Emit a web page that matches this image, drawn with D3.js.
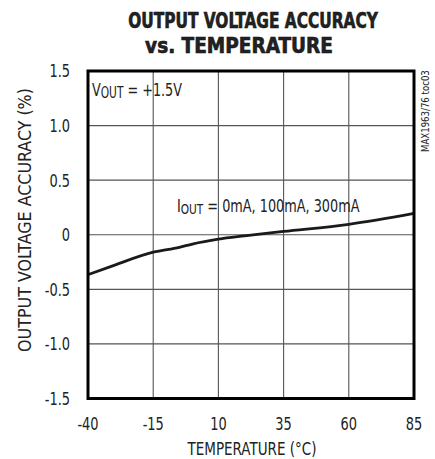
<!DOCTYPE html>
<html>
<head>
<meta charset="utf-8">
<script src="https://cdn.jsdelivr.net/npm/d3@7"></script>
<style>
  body { margin: 0; background: #fff; }
  text { font-family: "DejaVu Sans", "Liberation Sans", sans-serif; font-stretch: condensed; fill: #222; }
</style>
</head>
<body>
<svg id="chart" width="435" height="459"></svg>
<script>
// temperature (°C) vs output voltage accuracy (%)
var temps = [-40, -30, -15, -5, 0, 10, 20, 35, 60, 85];
var accuracy = [-0.365, -0.28, -0.16, -0.115, -0.085, -0.04, -0.01, 0.03, 0.095, 0.195];
var xTicks = [-40, -15, 10, 35, 60, 85];
var yTicks = [-1.5, -1.0, -0.5, 0, 0.5, 1.0, 1.5];
var yTickLabels = ['-1.5', '-1.0', '-0.5', '0', '0.5', '1.0', '1.5'];

var svg = d3.select('#chart');

var padding = { top: 71, right: 21, bottom: 60.5, left: 88 };
var width = +svg.attr('width');
var height = +svg.attr('height');

var xScale = d3.scaleLinear()
                .domain([-40, 85])
                .range([padding.left, width - padding.right]);

var yScale = d3.scaleLinear()
                .domain([-1.5, 1.5])
                .range([height - padding.bottom, padding.top]);

// squeeze a text to a given width (no condensed font installed)
function fit(sel, x, y, w, rot) {
    var bw = sel.node().getBBox().width;
    var k = w ? w / bw : 0.8;
    sel.attr('transform', `translate(${x}, ${y})${rot ? ' rotate(-90)' : ''} scale(${k}, 1)`);
    return sel;
}

// grid
svg.append('g')
    .selectAll('line')
    .data(xTicks.slice(1, -1))
    .enter()
    .append('line')
        .attr('x1', d => xScale(d))
        .attr('x2', d => xScale(d))
        .attr('y1', yScale.range()[1])
        .attr('y2', yScale.range()[0])
        .attr('stroke', '#555')
        .attr('stroke-width', 1.1);

svg.append('g')
    .selectAll('line')
    .data(yTicks.slice(1, -1))
    .enter()
    .append('line')
        .attr('x1', xScale.range()[0])
        .attr('x2', xScale.range()[1])
        .attr('y1', d => yScale(d))
        .attr('y2', d => yScale(d))
        .attr('stroke', '#555')
        .attr('stroke-width', 1.1);

// curve
var line = d3.line()
            .x((d, i) => xScale(temps[i]))
            .y(d => yScale(d))
            .curve(d3.curveMonotoneX);

svg.append('path')
    .datum(accuracy)
    .attr('d', line)
    .attr('fill', 'none')
    .attr('stroke', '#1a1a1a')
    .attr('stroke-width', 2.8);

// frame
svg.append('rect')
    .attr('x', xScale.range()[0])
    .attr('y', yScale.range()[1])
    .attr('width', xScale.range()[1] - xScale.range()[0])
    .attr('height', yScale.range()[0] - yScale.range()[1])
    .attr('fill', 'none')
    .attr('stroke', '#000')
    .attr('stroke-width', 3);

// tick labels
svg.append('g')
    .selectAll('text')
    .data(xTicks)
    .enter()
    .append('text')
        .style('font-size', '18px')
        .style('text-anchor', 'middle')
        .text(d => String(d))
        .each(function(d) { fit(d3.select(this), xScale(d), 430); });

svg.append('g')
    .selectAll('text')
    .data(yTicks)
    .enter()
    .append('text')
        .style('font-size', '18px')
        .style('text-anchor', 'end')
        .attr('dy', '0.36em')
        .text((d, i) => yTickLabels[i])
        .each(function(d) { fit(d3.select(this), 70, yScale(d)); });

// titles
fit(svg.append('text')
    .style('font-size', '21px')
    .style('font-weight', 'bold')
    .style('text-anchor', 'middle')
    .attr('fill', '#111')
    .attr('stroke', '#111')
    .attr('stroke-width', 0.6)
    .text('OUTPUT VOLTAGE ACCURACY'), 253, 28, 250);

fit(svg.append('text')
    .style('font-size', '21px')
    .style('font-weight', 'bold')
    .style('text-anchor', 'middle')
    .attr('fill', '#111')
    .attr('stroke', '#111')
    .attr('stroke-width', 0.6)
    .text('vs. TEMPERATURE'), 239, 53, 188);

fit(svg.append('text')
    .style('font-size', '17px')
    .style('text-anchor', 'middle')
    .text('TEMPERATURE (°C)'), 252, 455, 130);

fit(svg.append('text')
    .style('font-size', '17px')
    .style('text-anchor', 'middle')
    .text('OUTPUT VOLTAGE ACCURACY (%)'), 31, 220, 264, true);

// annotations
var vout = svg.append('text')
    .style('font-size', '18px');
vout.append('tspan').text('V');
vout.append('tspan').attr('dy', 1.5).style('font-size', '15px').text('OUT');
vout.append('tspan').attr('dy', -1.5).text(' = +1.5V');
fit(vout, 92, 96, 90);

var iout = svg.append('text')
    .style('font-size', '17px');
iout.append('tspan').text('I');
iout.append('tspan').attr('dy', 1.5).style('font-size', '14px').text('OUT');
iout.append('tspan').attr('dy', -1.5).text(' = 0mA, 100mA, 300mA');
fit(iout, 177, 212, 183);

fit(svg.append('text')
    .style('font-size', '10px')
    .text('MAX1963/76 toc03'), 429, 152, 82, true);
</script>
</body>
</html>
